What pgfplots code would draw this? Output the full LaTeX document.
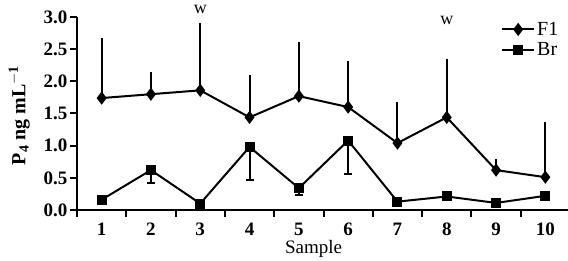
\documentclass[border=0pt]{standalone}
\usepackage{fontspec}
\setmainfont{Liberation Serif}
\usepackage{pgfplots}
\pgfplotsset{compat=1.18}
\begin{document}
\begin{tikzpicture}
\path[use as bounding box] (-77pt,-51pt) rectangle (491pt,210pt);
\begin{axis}[
  at={(0,0)}, anchor=south west,
  scale only axis, width=493pt, height=193pt,
  xmin=0.5, xmax=10.5, ymin=0, ymax=3,
  axis lines*=left,
  axis line style={line width=2pt},
  every tick/.style={line width=2pt, black},
  tick align=outside,
  xtick={0.5,1.5,...,10.5},
  xticklabels={1,2,3,4,5,6,7,8,9,10},
  x tick label as interval,
  ytick={0,0.5,...,3},
  major tick length=7pt,
  yticklabel style={/pgf/number format/fixed,/pgf/number format/fixed zerofill,/pgf/number format/precision=1},
  /pgf/number format/assume math mode=true,
  tick label style={font=\fontsize{19}{20}\selectfont\bfseries},
  xticklabel style={inner sep=0pt, yshift=-6pt},
  yticklabel style={xshift=1pt},
  xlabel={Sample},
  xlabel style={font=\fontsize{19}{20}\selectfont, at={(axis description cs:0.48,-0.226)}, anchor=base, inner sep=0pt},
  ylabel={\textbf{P$_{\mathbf{4}}$ ng mL$^{\mathbf{-1}}$}},
  ylabel style={font=\fontsize{20}{22}\selectfont, at={(axis description cs:-0.117,0.49)}, anchor=center},
  legend style={at={(0.86,0.985)}, anchor=north west, draw=none, fill=none, font=\fontsize{20}{22}\selectfont, row sep=2pt, inner sep=0pt, nodes={inner sep=2pt}},
  legend cell align=left,
  legend image code/.code={\draw[#1, line width=2pt] (0pt,0pt) -- (16pt,0pt) -- (32pt,0pt); \path[#1,only marks] plot coordinates {(16pt,0pt)};},
  clip=false,
]
\addplot[black, line width=2pt, mark=diamond*, mark size=5pt,
  error bars/.cd, y dir=plus, y explicit, error mark=none,
  error bar style={line width=2pt}]
  coordinates {
  (1,1.74) +- (0,0.93)
  (2,1.80) +- (0,0.34)
  (3,1.86) +- (0,1.05)
  (4,1.44) +- (0,0.66)
  (5,1.77) +- (0,0.84)
  (6,1.60) +- (0,0.72)
  (7,1.04) +- (0,0.64)
  (8,1.44) +- (0,0.91)
  (9,0.62) +- (0,0.17)
  (10,0.51) +- (0,0.86)
  };
\addlegendentry{F1}
\addplot[black, line width=2pt, mark=square*, mark size=4pt,
  error bars/.cd, y dir=minus, y explicit,
  error bar style={line width=2pt},
  error mark options={rotate=90, mark size=4pt, line width=2pt}]
  coordinates {
  (1,0.16) +- (0,0)
  (2,0.62) +- (0,0.20)
  (3,0.10) +- (0,0)
  (4,0.98) +- (0,0.51)
  (5,0.34) +- (0,0.11)
  (6,1.08) +- (0,0.52)
  (7,0.13) +- (0,0)
  (8,0.21) +- (0,0)
  (9,0.11) +- (0,0)
  (10,0.22) +- (0,0)
  };
\addlegendentry{Br}
\node[font=\fontsize{18}{20}\selectfont, anchor=base] at (axis cs:3,3.06) {w};
\node[font=\fontsize{18}{20}\selectfont, anchor=base] at (axis cs:8,2.88) {w};
\end{axis}
\end{tikzpicture}
\end{document}
